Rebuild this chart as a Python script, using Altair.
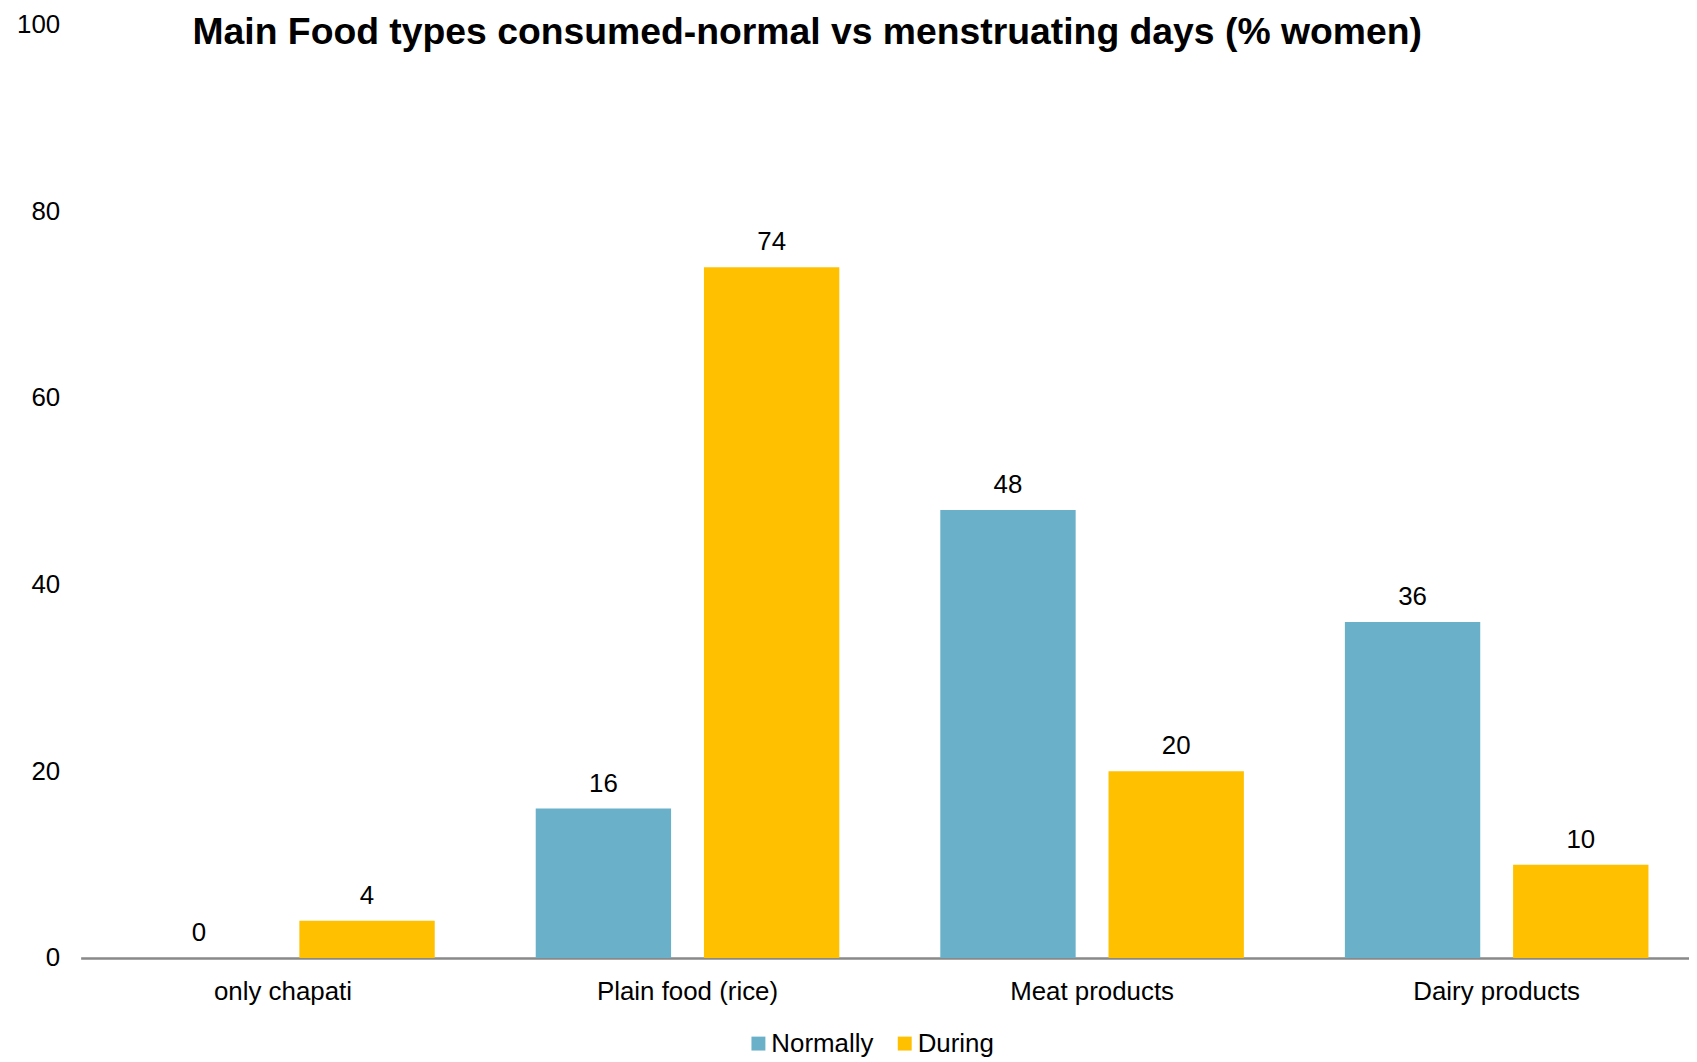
import altair as alt
import pandas as pd

categories = ["only chapati", "Plain food (rice)", "Meat products", "Dairy products"]
series = ["Normally", "During"]
normally = [0, 16, 48, 36]
during = [4, 74, 20, 10]
colors = ["#6AB0C8", "#FFC000"]
y_ticks = [0, 20, 40, 60, 80, 100]
title_text = "Main Food types consumed-normal vs menstruating days (% women)"

rows = []
for c, n, d in zip(categories, normally, during):
    rows.append({"category": c, "series": "Normally", "value": n})
    rows.append({"category": c, "series": "During", "value": d})
df = pd.DataFrame(rows)

FONT = "Liberation Sans"
FS = 26
W = 1626
H = 938

x_enc = alt.X("category:N", sort=categories, title=None,
              scale=alt.Scale(paddingInner=0, paddingOuter=0),
              axis=alt.Axis(labelAngle=0, labelFontSize=FS, labelFont=FONT, labelColor="#000000",
                            labelLimit=0, ticks=False, labelPadding=21,
                            domainColor="#898989", domainWidth=2.3, grid=False))
xo_enc = alt.XOffset("series:N", sort=series,
                     scale=alt.Scale(paddingInner=0.195, paddingOuter=0.3))
y_enc = alt.Y("value:Q", title=None,
              scale=alt.Scale(domain=[0, 100], nice=False),
              axis=alt.Axis(values=y_ticks, labelFontSize=FS, labelFont=FONT, labelColor="#000000",
                            ticks=False, domain=False, grid=False, labelPadding=21))

bars = alt.Chart(df).mark_bar(size=136).encode(
    x=x_enc,
    xOffset=xo_enc,
    y=y_enc,
    color=alt.Color("series:N", sort=series, title=None,
                    scale=alt.Scale(domain=series, range=colors),
                    legend=alt.Legend(orient="none", legendX=668, legendY=1011, direction="horizontal",
                                      symbolType="square", symbolSize=196, symbolStrokeWidth=0,
                                      labelFontSize=FS, labelFont=FONT, labelColor="#000000",
                                      labelOffset=0, columnPadding=18)),
)

labels = alt.Chart(df).mark_text(fontSize=FS, font=FONT, color="#000000",
                                 baseline="alphabetic", dy=-17).encode(
    x=alt.X("category:N", sort=categories),
    xOffset=alt.XOffset("series:N", sort=series),
    y="value:Q",
    text="value:Q",
)

chart = alt.layer(bars, labels).properties(
    width=W,
    height=H,
    autosize=alt.AutoSizeParams(type="none"),
    padding={"left": 73, "top": 14, "right": -10, "bottom": 102},
    title=alt.TitleParams(title_text, font=FONT, fontSize=37.5, fontWeight="bold", color="#000000",
                          anchor="middle", frame="group", dx=-83, baseline="alphabetic",
                          offset=-70),
).configure_view(stroke=None)

chart.save("out.html", embed_options={"renderer": "svg", "actions": False})
